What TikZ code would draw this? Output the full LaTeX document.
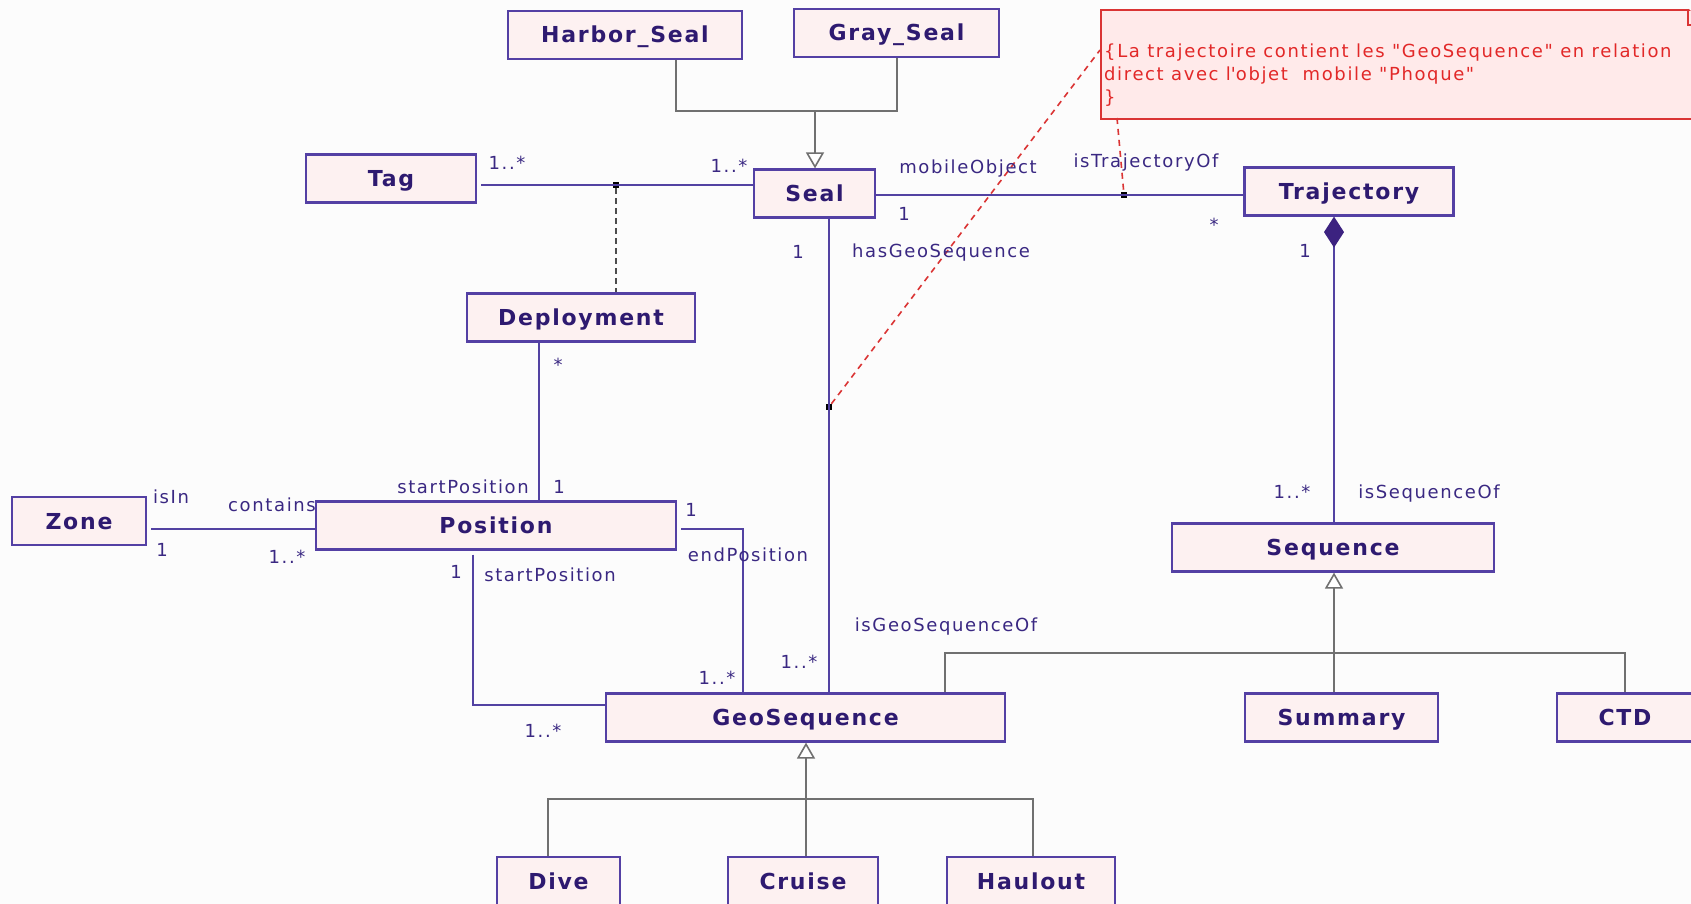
\documentclass[tikz,border=0pt]{standalone}
\usepackage{fontspec}
\setmainfont{DejaVu Sans}
\newfontfamily\clsfont[LetterSpace=8]{DejaVu Sans}
\newfontfamily\lblfont[LetterSpace=9]{DejaVu Sans}
\usetikzlibrary{arrows.meta}

\definecolor{clsline}{RGB}{84,64,164}
\definecolor{clstext}{RGB}{46,26,112}
\definecolor{clsfill}{RGB}{253,241,241}
\definecolor{lbltext}{RGB}{58,40,130}
\definecolor{assocline}{RGB}{82,66,162}
\definecolor{compfill}{RGB}{60,34,128}
\definecolor{genline}{RGB}{112,112,112}
\definecolor{notefill}{RGB}{255,234,234}
\definecolor{noteline}{RGB}{218,52,52}
\definecolor{notetext}{RGB}{226,40,40}

\tikzset{
  cls/.style={rectangle, draw=clsline, line width=2.2pt, fill=clsfill,
    inner sep=0pt, minimum height=48pt, text=clstext,
    text height=16pt, text depth=0pt,
    font=\clsfont\bfseries\fontsize{22}{26}\selectfont},
  lbl/.style={text=lbltext, inner sep=0pt, anchor=base,
    font=\lblfont\fontsize{18}{23}\selectfont},
  assoc/.style={draw=assocline, line width=2pt},
  gen/.style={draw=genline, line width=2pt},
  genhead/.style={-{Triangle[open, length=16pt, width=18pt, line width=1.6pt, fill=white]}},
  comphead/.style={-{Diamond[length=31pt, width=20pt, color=compfill]}},
  joint/.style={rectangle, fill=black, minimum size=6pt, inner sep=0pt},
  assocclass/.style={draw=black!70, line width=1.6pt, dash pattern=on 6pt off 4pt},
  notelink/.style={draw=noteline, line width=1.6pt, dash pattern=on 6pt off 5pt},
}

\begin{document}
\begin{tikzpicture}[x=1pt, y=-1pt]
\useasboundingbox (0,0) rectangle (1691,904);
\fill[white!99!black] (0,0) rectangle (1691,904);
\clip (0,0) rectangle (1691,904);

% classes
\node[cls, minimum width=234pt] (harbor)     at (625,35)     {Harbor\_Seal};
\node[cls, minimum width=205pt] (gray)       at (896.5,33)   {Gray\_Seal};
\node[cls, minimum width=170pt] (tag)        at (391,178.5)  {Tag};
\node[cls, minimum width=121pt] (seal)       at (814.5,193.5){Seal};
\node[cls, minimum width=209pt] (trajectory) at (1349,191.5) {Trajectory};
\node[cls, minimum width=228pt] (deployment) at (581,317.5)  {Deployment};
\node[cls, minimum width=134pt] (zone)       at (79,521)     {Zone};
\node[cls, minimum width=360pt] (position)   at (496,525.5)  {Position};
\node[cls, minimum width=322pt] (sequence)   at (1333,547.5) {Sequence};
\node[cls, minimum width=399pt] (geoseq)     at (805.5,717.5){GeoSequence};
\node[cls, minimum width=193pt] (summary)    at (1341.5,717.5){Summary};
\node[cls, minimum width=136pt] (ctd)        at (1625,717.5) {CTD};
\node[cls, minimum width=123pt] (dive)       at (558.5,881)  {Dive};
\node[cls, minimum width=150pt] (cruise)     at (803,881)    {Cruise};
\node[cls, minimum width=168pt] (haulout)    at (1031,881)   {Haulout};

% Harbor_Seal, Gray_Seal -> Seal
\coordinate (hj) at (676,111);
\coordinate (gj) at (897,111);
\coordinate (sj) at (815,111);
\draw[gen] (hj |- harbor.south) -- (hj) -- (gj) -- (gj |- gray.south);
\draw[gen, genhead] (sj) -- (sj |- seal.north);

% Tag -- Seal with association class Deployment
\node[joint] (tsq) at (616,185) {};
\draw[assoc] (tag.east |- tsq) ++(4,0) -- (seal.west |- tsq);
\draw[assocclass] (tsq) -- (tsq |- deployment.north);

% Seal -- Trajectory
\node[joint] (trsq) at (1124,195) {};
\draw[assoc] (seal.east |- trsq) -- (trajectory.west |- trsq);

% Seal -- GeoSequence
\node[joint] (gsq) at (829,407) {};
\draw[assoc] (gsq |- seal.south) -- (gsq |- geoseq.north);

% Trajectory <>-- Sequence
\coordinate (cx) at (1334,400);
\draw[assoc, comphead] (cx |- sequence.north) -- (cx |- trajectory.south);

% Deployment -- Position
\coordinate (dp) at (539,400);
\draw[assoc] (dp |- deployment.south) -- (dp |- position.north);

% Zone -- Position
\coordinate (zp) at (0,529);
\draw[assoc] (zone.east |- zp) ++(4,0) -- (position.west |- zp);

% Position -- GeoSequence (startPosition)
\coordinate (sp) at (473,705);
\draw[assoc] (sp |- position.south) ++(0,4) -- (sp) -- (geoseq.west |- sp);

% Position -- GeoSequence (endPosition)
\coordinate (ep) at (743,529);
\draw[assoc] (position.east |- ep) ++(4,0) -- (ep) -- (ep |- geoseq.north);

% GeoSequence, Summary, CTD -> Sequence
\coordinate (qj) at (1334,653);
\coordinate (ql) at (945,653);
\coordinate (qr) at (1625,653);
\draw[gen] (ql |- geoseq.north) -- (ql) -- (qr) -- (qr |- ctd.north);
\draw[gen] (qj |- summary.north) -- (qj);
\draw[gen, genhead] (qj) -- (qj |- sequence.south);

% Dive, Cruise, Haulout -> GeoSequence
\coordinate (dj) at (806,799);
\coordinate (dl) at (548,799);
\coordinate (dr) at (1033,799);
\draw[gen] (dl |- dive.north) -- (dl) -- (dr) -- (dr |- haulout.north);
\draw[gen] (dj |- cruise.north) -- (dj);
\draw[gen, genhead] (dj) -- (dj |- geoseq.south);

% constraint note
\node[rectangle, draw=noteline, fill=notefill, line width=1.6pt,
      minimum width=604pt, minimum height=109pt, inner sep=0pt,
      anchor=north west] (note) at (1100,9) {};
\fill[white!99!black] (1688,8) -- (1706,8) -- (1706,26) -- cycle;
\draw[noteline, line width=1.6pt] (1688,9) -- (1688,25) -- (1704,25);
\node[text=notetext, inner sep=0pt, anchor=north west, align=left,
      font=\lblfont\fontsize{18}{23}\selectfont] (notetxt) at (1104,44)
  {\{La trajectoire contient les "GeoSequence" en relation\\
   direct avec l\textquotesingle objet\ \ mobile "Phoque"\\
   \}};
\coordinate (na) at (1100,50);
\coordinate (nb) at (1117,118);
\draw[notelink] (gsq) -- (na);
\draw[notelink] (nb) -- (trsq);

% association labels and multiplicities
\node[lbl] (m1)  at (507,170)  {1..*};
\node[lbl] (m2)  at (729,173)  {1..*};
\node[lbl] (r1)  at (968,174)  {mobileObject};
\node[lbl] (m3)  at (904,220)  {1};
\node[lbl] (r2)  at (1146,168) {isTrajectoryOf};
\node[lbl] (m4)  at (1214,231) {*};
\node[lbl] (m5)  at (798,258)  {1};
\node[lbl] (r3)  at (941,257)  {hasGeoSequence};
\node[lbl] (m6)  at (1305,257) {1};
\node[lbl] (m7)  at (558,371)  {*};
\node[lbl] (r4)  at (463,493)  {startPosition};
\node[lbl] (m8)  at (559,493)  {1};
\node[lbl] (r5)  at (171,503)  {isIn};
\node[lbl] (r6)  at (272,511)  {contains};
\node[lbl] (m9)  at (162,556)  {1};
\node[lbl] (m10) at (287,563)  {1..*};
\node[lbl] (m11) at (691,516)  {1};
\node[lbl] (r7)  at (748,561)  {endPosition};
\node[lbl] (m12) at (456,578)  {1};
\node[lbl] (r8)  at (550,581)  {startPosition};
\node[lbl] (m13) at (543,737)  {1..*};
\node[lbl] (m14) at (717,684)  {1..*};
\node[lbl] (m15) at (799,668)  {1..*};
\node[lbl] (r9)  at (946,631)  {isGeoSequenceOf};
\node[lbl] (m16) at (1292,498) {1..*};
\node[lbl] (r10) at (1429,498) {isSequenceOf};
\end{tikzpicture}
\end{document}
